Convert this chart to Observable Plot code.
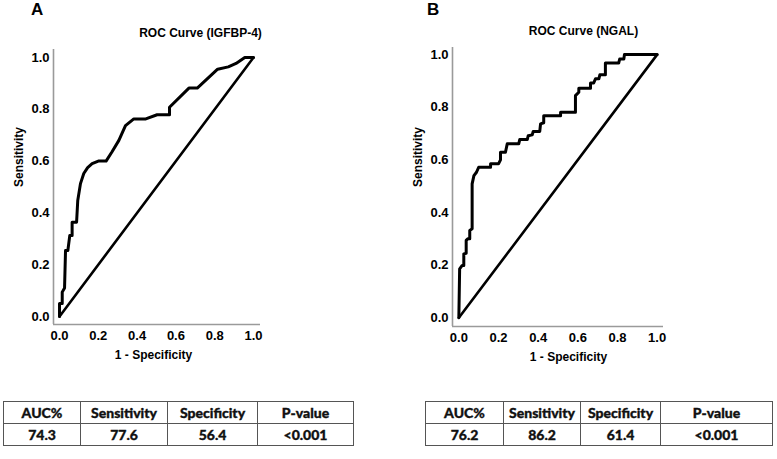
<!DOCTYPE html>
<html>
<head>
<meta charset="utf-8">
<script src="https://cdn.jsdelivr.net/npm/d3@7"></script>
<script src="https://cdn.jsdelivr.net/npm/@observablehq/plot@0.6"></script>
<style>
  html, body { margin: 0; padding: 0; background: #fff; }
  #root { position: relative; width: 777px; height: 459px; overflow: hidden; background: #fff; }
  .panel { position: absolute; top: 0; }
  .letter { position: absolute; top: 1px; font: bold 17px "Liberation Sans", Arial, sans-serif; line-height: 17px; color: #000; }
  table.stats { position: absolute; border-collapse: collapse; table-layout: fixed;
    font-family: Lato, "Liberation Sans", sans-serif; font-weight: 900; font-size: 14px; color: #111;
    -webkit-text-stroke: 0.35px #111; }
  table.stats td { border: 1.5px solid #555; text-align: center; padding: 0; height: 21px; line-height: 20px; }
  svg text { font-weight: bold !important; font-family: "Liberation Sans", Arial, sans-serif !important; }
  svg g[aria-label$="tick label"], svg g[aria-label$="tick label"] text { font-size: 13px !important; fill: #000 !important; }
</style>
</head>
<body>
<div id="root"></div>
<script>
// ---- data ----
const igfbpFpr = [0, 0, 0.014, 0.014, 0.026, 0.031, 0.043, 0.053, 0.065, 0.065, 0.088, 0.094, 0.108, 0.125, 0.145, 0.168, 0.2, 0.24, 0.27, 0.306, 0.34, 0.383, 0.445, 0.503, 0.567, 0.567, 0.667, 0.71, 0.815, 0.87, 0.91, 0.955, 1];
const igfbpTpr = [0, 0.05, 0.05, 0.094, 0.11, 0.255, 0.255, 0.313, 0.313, 0.364, 0.364, 0.448, 0.513, 0.552, 0.575, 0.59, 0.6, 0.6, 0.635, 0.68, 0.737, 0.763, 0.763, 0.779, 0.779, 0.808, 0.882, 0.882, 0.955, 0.964, 0.977, 1.0, 1];
const ngalFpr = [0, 0.004, 0.017, 0.025, 0.025, 0.037, 0.037, 0.045, 0.055, 0.055, 0.067, 0.067, 0.076, 0.089, 0.1, 0.16, 0.16, 0.2, 0.21, 0.21, 0.235, 0.244, 0.302, 0.307, 0.345, 0.35, 0.37, 0.375, 0.408, 0.412, 0.428, 0.428, 0.513, 0.513, 0.588, 0.588, 0.605, 0.605, 0.664, 0.664, 0.68, 0.689, 0.706, 0.711, 0.739, 0.739, 0.806, 0.811, 0.832, 0.835, 1];
const ngalTpr = [0, 0.186, 0.199, 0.199, 0.243, 0.245, 0.294, 0.3, 0.3, 0.332, 0.338, 0.509, 0.54, 0.553, 0.572, 0.572, 0.585, 0.585, 0.6, 0.629, 0.629, 0.661, 0.661, 0.677, 0.677, 0.692, 0.695, 0.708, 0.708, 0.737, 0.741, 0.768, 0.768, 0.781, 0.781, 0.844, 0.857, 0.872, 0.872, 0.892, 0.892, 0.908, 0.908, 0.923, 0.923, 0.968, 0.968, 0.983, 0.983, 1.0, 1];
const diagonal = [0, 1];
const axisTicks = [0, 0.2, 0.4, 0.6, 0.8, 1.0];
const tableHeaders = ["AUC%", "Sensitivity", "Specificity", "P-value"];
const igfbpStats = ["74.3", "77.6", "56.4", "<0.001"];
const ngalStats = ["76.2", "86.2", "61.4", "<0.001"];
const titles = ["ROC Curve (IGFBP-4)", "ROC Curve (NGAL)"];
const xLabel = "1 - Specificity";
const yLabel = "Sensitivity";

const root = document.getElementById("root");
const FONT = "'Liberation Sans', Arial, sans-serif";

function rocPlot(o) {
  const pts = o.fpr.map((x, i) => ({x, y: o.tpr[i]}));
  const diag = diagonal.map(v => ({x: v, y: v}));
  return Plot.plot({
    width: o.width, height: 370,
    marginLeft: o.marginLeft, marginRight: o.marginRight,
    marginTop: o.marginTop, marginBottom: o.marginBottom,
    style: {fontFamily: FONT, fontSize: "13px", fontWeight: "bold", background: "transparent", color: "#000", overflow: "visible"},
    x: {domain: o.xDomain},
    y: {domain: o.yDomain},
    marks: [
      Plot.ruleX([o.xDomain[0]], {y1: o.yDomain[0], y2: o.yDomain[1], stroke: "#9a9a9a", strokeWidth: 1.6}),
      Plot.ruleY([o.yDomain[0]], {x1: o.xDomain[0], x2: o.xDomain[1], stroke: "#9a9a9a", strokeWidth: 1.6}),
      Plot.line(diag, {x: "x", y: "y", stroke: "#000", strokeWidth: 2.6}),
      Plot.line(pts, {x: "x", y: "y", stroke: "#000", strokeWidth: 3, strokeLinejoin: "round"}),
      Plot.axisX({ticks: axisTicks, tickFormat: d3.format(".1f"), tickSize: 0, tickPadding: 6,
        fontSize: 13, fontWeight: "bold", fill: "#000", label: null}),
      Plot.axisY({ticks: axisTicks, tickFormat: d3.format(".1f"), tickSize: 0, tickPadding: 4,
        fontSize: 13, fontWeight: "bold", fill: "#000", label: null}),
      Plot.text([o.title], {frameAnchor: "top", dx: o.titleDx, dy: -16, lineAnchor: "middle",
        fontSize: 12, fontWeight: "bold", fill: "#000"}),
      Plot.text([xLabel], {frameAnchor: "bottom", dx: o.xLabelDx, dy: 31, lineAnchor: "middle",
        fontSize: 12, fontWeight: "bold", fill: "#000"}),
      Plot.text([yLabel], {frameAnchor: "left", dx: -34.5, rotate: -90, lineAnchor: "middle",
        fontSize: 12, fontWeight: "bold", fill: "#000"})
    ]
  });
}

function addPanel(left, letterLeft, letter, plotOpts, stats, tableLeft, colWidths) {
  const div = document.createElement("div");
  div.className = "panel";
  div.style.left = left + "px";
  div.appendChild(rocPlot(plotOpts));
  root.appendChild(div);

  const l = document.createElement("div");
  l.className = "letter";
  l.style.left = letterLeft + "px";
  l.textContent = letter;
  root.appendChild(l);

  const t = document.createElement("table");
  t.className = "stats";
  t.style.left = tableLeft + "px";
  t.style.top = "401px";
  t.style.width = d3.sum(colWidths) + "px";
  const cg = document.createElement("colgroup");
  colWidths.forEach(w => { const c = document.createElement("col"); c.style.width = w + "px"; cg.appendChild(c); });
  t.appendChild(cg);
  [tableHeaders, stats].forEach(row => {
    const tr = document.createElement("tr");
    row.forEach(v => { const td = document.createElement("td"); td.textContent = v; tr.appendChild(td); });
    t.appendChild(tr);
  });
  root.appendChild(t);
}

addPanel(0, 31, "A", {
  fpr: igfbpFpr, tpr: igfbpTpr, title: titles[0],
  width: 390, marginLeft: 53, marginRight: 130, marginTop: 49, marginBottom: 46,
  xDomain: [-0.031, 1.036], yDomain: [-0.031, 1.031], titleDx: 43.5, xLabelDx: -3.5
}, igfbpStats, 3, [77, 87, 90, 96]);

addPanel(390, 427, "B", {
  fpr: ngalFpr, tpr: ngalTpr, title: titles[1],
  width: 387, marginLeft: 62, marginRight: 114, marginTop: 47, marginBottom: 44,
  xDomain: [-0.032, 1.032], yDomain: [-0.033, 1.027], titleDx: 25.5, xLabelDx: 10.5
}, ngalStats, 425, [78, 77, 80, 112]);
</script>
</body>
</html>
